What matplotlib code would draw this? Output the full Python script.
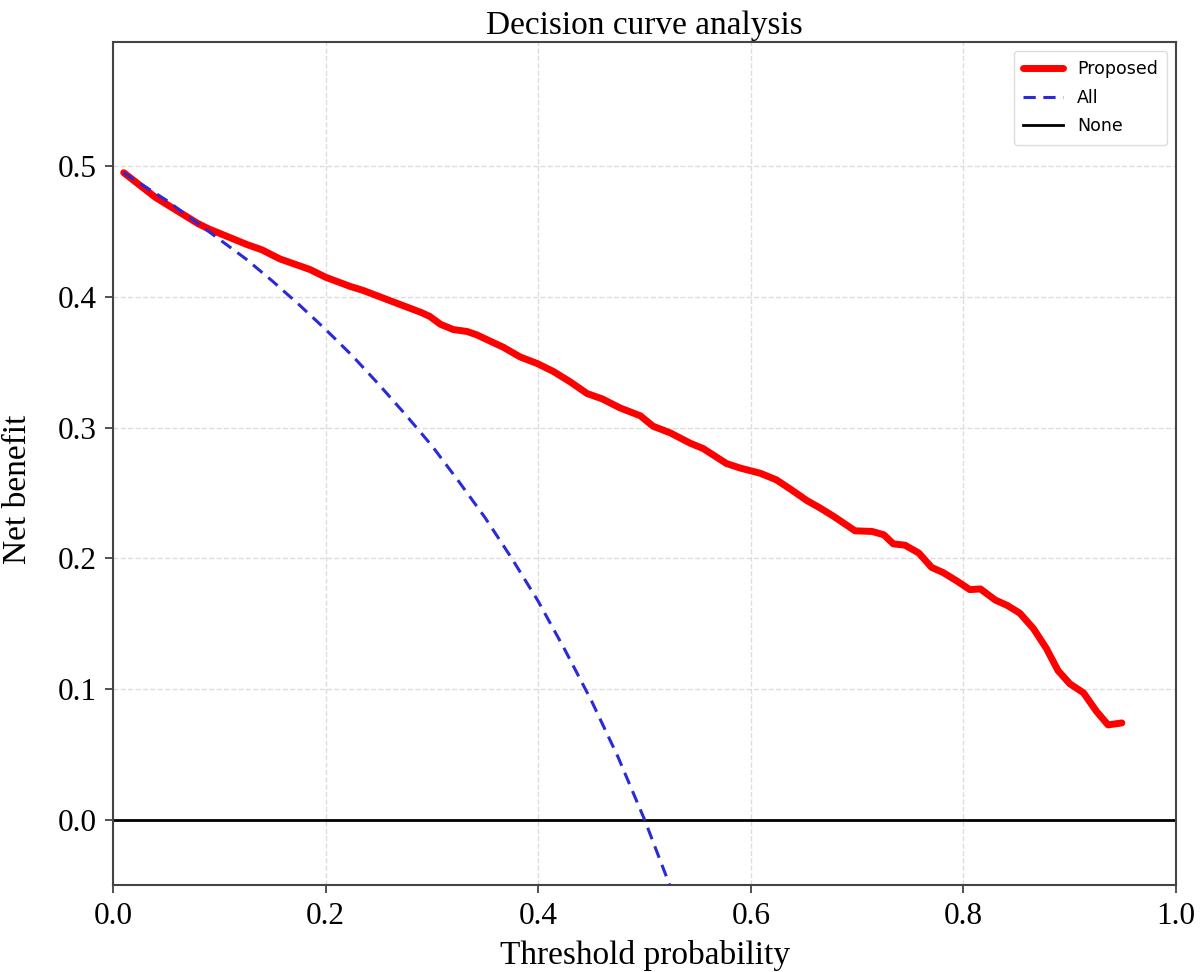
from matplotlib import pyplot as plt
import numpy as np

thresh_proposed = [0.01, 0.04, 0.08, 0.09, 0.126, 0.14, 0.157, 0.185, 0.20, 0.223, 0.235,
                   0.264, 0.29, 0.298, 0.308, 0.32, 0.333, 0.342, 0.355, 0.367, 0.383,
                   0.399, 0.414, 0.43, 0.446, 0.46, 0.477, 0.496, 0.508, 0.524, 0.543,
                   0.555, 0.577, 0.59, 0.609, 0.624, 0.637, 0.653, 0.664, 0.678, 0.698,
                   0.714, 0.725, 0.734, 0.745, 0.758, 0.77, 0.781, 0.794, 0.806, 0.816,
                   0.83, 0.841, 0.853, 0.866, 0.878, 0.889, 0.90, 0.913, 0.925, 0.936,
                   0.949]
nb_proposed = [0.495, 0.476, 0.456, 0.452, 0.440, 0.436, 0.429, 0.421, 0.415, 0.408, 0.405,
               0.396, 0.388, 0.385, 0.379, 0.375, 0.3735, 0.371, 0.366, 0.3615, 0.354,
               0.349, 0.343, 0.335, 0.326, 0.322, 0.315, 0.309, 0.301, 0.296, 0.288,
               0.284, 0.2725, 0.269, 0.265, 0.260, 0.253, 0.244, 0.239, 0.232, 0.221,
               0.2205, 0.218, 0.211, 0.210, 0.204, 0.193, 0.189, 0.1825, 0.176, 0.1765,
               0.168, 0.164, 0.158, 0.146, 0.131, 0.114, 0.104, 0.097, 0.083, 0.0725,
               0.074]

thresh_all = [0.01, 0.025, 0.05, 0.075, 0.10, 0.125, 0.15, 0.175, 0.20, 0.225, 0.25,
              0.275, 0.30, 0.325, 0.35, 0.375, 0.40, 0.425, 0.45, 0.475, 0.50, 0.525]
nb_all = [0.495, 0.487, 0.474, 0.459, 0.444, 0.429, 0.412, 0.394, 0.375, 0.355, 0.333,
          0.310, 0.286, 0.259, 0.231, 0.200, 0.167, 0.130, 0.091, 0.048, 0.0, -0.053]

x_ticks = [0.0, 0.2, 0.4, 0.6, 0.8, 1.0]
y_ticks = [0.0, 0.1, 0.2, 0.3, 0.4, 0.5]

serif = 'Liberation Serif'

fig = plt.figure(figsize=(12.03, 9.72), dpi=100)
ax = fig.add_axes([0.094, 0.0895, 0.8836, 0.8673])

ax.plot(thresh_proposed, nb_proposed, color='red', lw=5, label='Proposed', zorder=2,
        solid_joinstyle='round', solid_capstyle='round')
# dashed "All" line sits on top of the red one where they overlap
ax.plot(thresh_all, nb_all, color='#2a2ad8', lw=2.2, ls='--', dashes=(4, 2.5), label='All', zorder=3)
ax.axhline(0, color='black', lw=2, label='None', zorder=2)

ax.set_xlim(0, 1)
ax.set_ylim(-0.05, 0.595)
ax.set_xticks(x_ticks)
ax.set_yticks(y_ticks)
ax.set_xticklabels(['%.1f' % v for v in x_ticks], fontsize=22.5, family=serif)
ax.set_yticklabels(['%.1f' % v for v in y_ticks], fontsize=22.5, family=serif)
ax.tick_params(direction='out', length=6, width=1.2, color='#333333', pad=6)

ax.grid(True, ls='--', color='#dddddd', lw=1)
for s in ax.spines.values():
    s.set_color('#444444')
    s.set_linewidth(1.5)

ax.set_title('Decision curve analysis', fontsize=24, family=serif, pad=6)
ax.set_xlabel('Threshold probability', fontsize=24, family=serif, labelpad=7)
ax.set_ylabel('Net benefit', fontsize=24, family=serif)
ax.yaxis.set_label_coords(-0.075, 0.469)

leg = ax.legend(loc='upper right', fontsize=12.5, handlelength=2.3, borderpad=0.55,
                labelspacing=0.6, framealpha=1, edgecolor='#dddddd')

fig.savefig('out.png', dpi=100)
